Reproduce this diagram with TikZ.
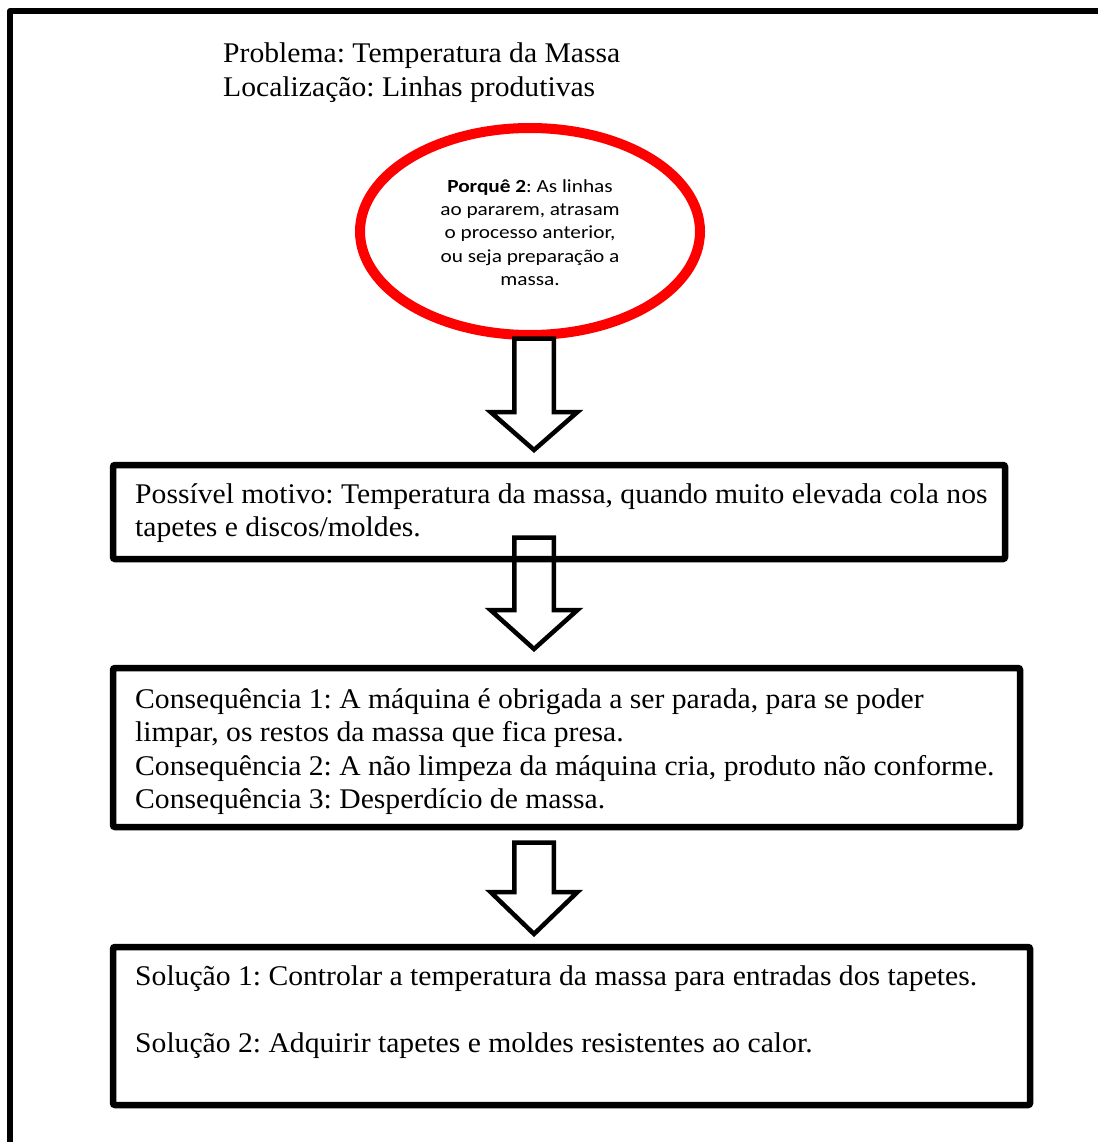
\documentclass[tikz,border=0pt]{standalone}
\usepackage{fontspec}
\setmainfont[FakeStretch=1.04]{Liberation Serif}
\newfontfamily\calib[FakeStretch=1.15]{Carlito}
\frenchspacing
\begin{document}
\begin{tikzpicture}[x=1pt,y=-1pt,
  frameline/.style={line width=6pt,line join=round},
  boxnode/.style={draw,line width=6.5pt,rounded corners=2pt,fill=white,inner sep=0pt,anchor=center},
  bodytext/.style={inner sep=0pt,anchor=base west,font=\fontsize{28.5}{33.5}\selectfont},
  whytext/.style={inner sep=0pt,align=center,font=\calib\fontsize{18.5}{23.3}\selectfont},
  blockarrow/.style={draw,line width=4.5pt,line join=miter,miter limit=10}]
\useasboundingbox (0,0) rectangle (1098,1142);
\fill[white] (0,0) rectangle (1098,1142);

% page frame, open to the right and bottom
\draw[frameline] (10,1142) -- (10,11) -- (1098,11);

% heading
\node[bodytext] (head) at (223,63) {\vtop{\hbox{Problema: Temperatura da Massa}\hbox{Localização: Linhas produtivas}}};

% the second "why" in a red ellipse
\draw[red,line width=10pt,fill=white] (530,231.5) ellipse [x radius=170,y radius=103.5];
\node[whytext] (why) at (530,232.5) {\textbf{Porquê 2}: As linhas\\ao pararem, atrasam\\o processo anterior,\\ou seja preparação a\\massa.};

% boxes
\node[boxnode,minimum width=892pt,minimum height=94pt] (motivo) at (559,512) {};
\node[boxnode,minimum width=907pt,minimum height=159pt] (conseq) at (566.5,747.5) {};
\node[boxnode,minimum width=917pt,minimum height=158pt] (solucao) at (571.5,1026) {};

\node[bodytext] (motivotxt) at (135,503.3) {\vtop{\hbox{Possível motivo: Temperatura da massa, quando muito elevada cola nos}\hbox{tapetes e discos/moldes.}}};
\node[bodytext] (conseqtxt) at (135,708) {\vtop{\hbox{Consequência 1: A máquina é obrigada a ser parada, para se poder}\hbox{limpar, os restos da massa que fica presa.}\hbox{Consequência 2: A não limpeza da máquina cria, produto não conforme.}\hbox{Consequência 3: Desperdício de massa.}}};
\node[bodytext] (solucaotxt) at (135,985) {\vtop{\hbox{Solução 1: Controlar a temperatura da massa para entradas dos tapetes.}\hbox{\strut}\hbox{Solução 2: Adquirir tapetes e moldes resistentes ao calor.}}};

% hollow block arrows: #1 centre x, #2 shaft top, #3 head base, #4 tip
\newcommand\hollowarrow[4]{%
  \draw[blockarrow] (#1-19.75,#2) -- (#1+19.75,#2) -- (#1+19.75,#3) -- (#1+43.5,#3)
    -- (#1,#4) -- (#1-43.5,#3) -- (#1-19.75,#3) -- cycle;}
\hollowarrow{534}{338.5}{412}{450}
\hollowarrow{534}{537.5}{610}{649}
\hollowarrow{534}{842.5}{892}{934}
\end{tikzpicture}
\end{document}
